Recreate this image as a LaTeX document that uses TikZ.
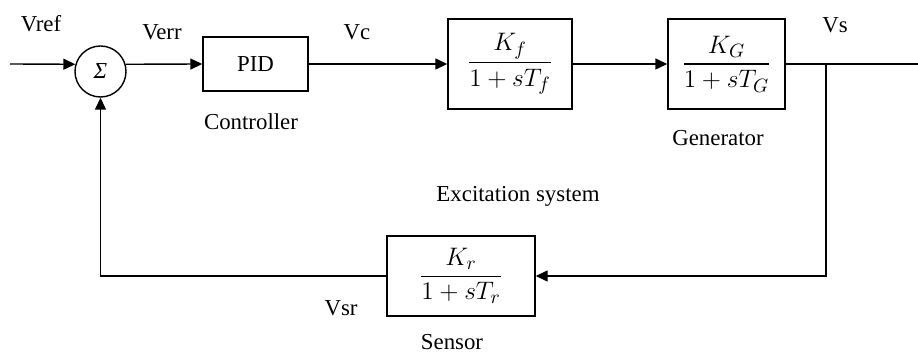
\documentclass[tikz,border=0pt]{standalone}
\usepackage{amsmath,amssymb}
\usepackage{fontspec}
\setmainfont{Liberation Serif}
\newfontfamily\tnrfont{Liberation Serif}
\usepackage{tikz}
\usetikzlibrary{arrows.meta}

\begin{document}
\begin{tikzpicture}[
  font=\tnrfont\fontsize{13}{15}\selectfont,
  blk/.style={draw, line width=0.8pt, inner sep=0pt},
  tf/.style={font=\tnrfont\fontsize{15}{18}\selectfont},
  sumnode/.style={draw, circle, line width=0.8pt, minimum size=1.02cm, inner sep=0pt},
  lbl/.style={anchor=base},
  sig/.style={line width=0.8pt, -{Triangle[length=0.24cm, width=0.22cm]}}
]
\useasboundingbox (0,0) rectangle (18.36,7.08);

\node[sumnode] (sum) at (2.01,5.65) {\itshape Σ};
\node[blk, minimum width=2.10cm, minimum height=1.08cm] (pid) at (5.11,5.80) {PID};
\node[blk, tf, minimum width=2.48cm, minimum height=1.80cm] (kf) at (10.20,5.80) {$\dfrac{K_f}{1+sT_f}$};
\node[blk, tf, minimum width=2.34cm, minimum height=1.80cm] (kg) at (14.53,5.80) {$\dfrac{K_G}{1+sT_G}$};
\node[blk, tf, minimum width=2.96cm, minimum height=1.60cm] (sens) at (9.22,1.56) {$\dfrac{K_r}{1+sT_r}$};

\coordinate (in) at (0.20,5.80);
\coordinate (br) at (16.52,5.80);
\coordinate (out) at (18.36,5.80);

\draw[sig] (in) -- (sum.164);
\draw[sig] (sum.16) -- (pid.west);
\draw[sig] (pid.east) -- (kf.west);
\draw[sig] (kf.east) -- (kg.west);
\draw[line width=0.8pt] (kg.east) -- (out);
\draw[sig] (br) |- (sens.east);
\draw[sig] (sens.west) -| (sum.south);

\node[lbl] (vref) at (0.82,6.44) {Vref};
\node[lbl] (verr) at (3.24,6.28) {Verr};
\node[lbl] (vc) at (7.14,6.28) {Vc};
\node[lbl] (vs) at (16.70,6.42) {Vs};
\node[lbl] (ctrl) at (5.02,4.48) {Controller};
\node[lbl] (gen) at (14.36,4.16) {Generator};
\node[lbl] (exc) at (10.36,3.04) {Excitation system};
\node[lbl] (vsr) at (6.82,0.76) {Vsr};
\node[lbl] (sensl) at (9.04,0.08) {Sensor};
\end{tikzpicture}
\end{document}
